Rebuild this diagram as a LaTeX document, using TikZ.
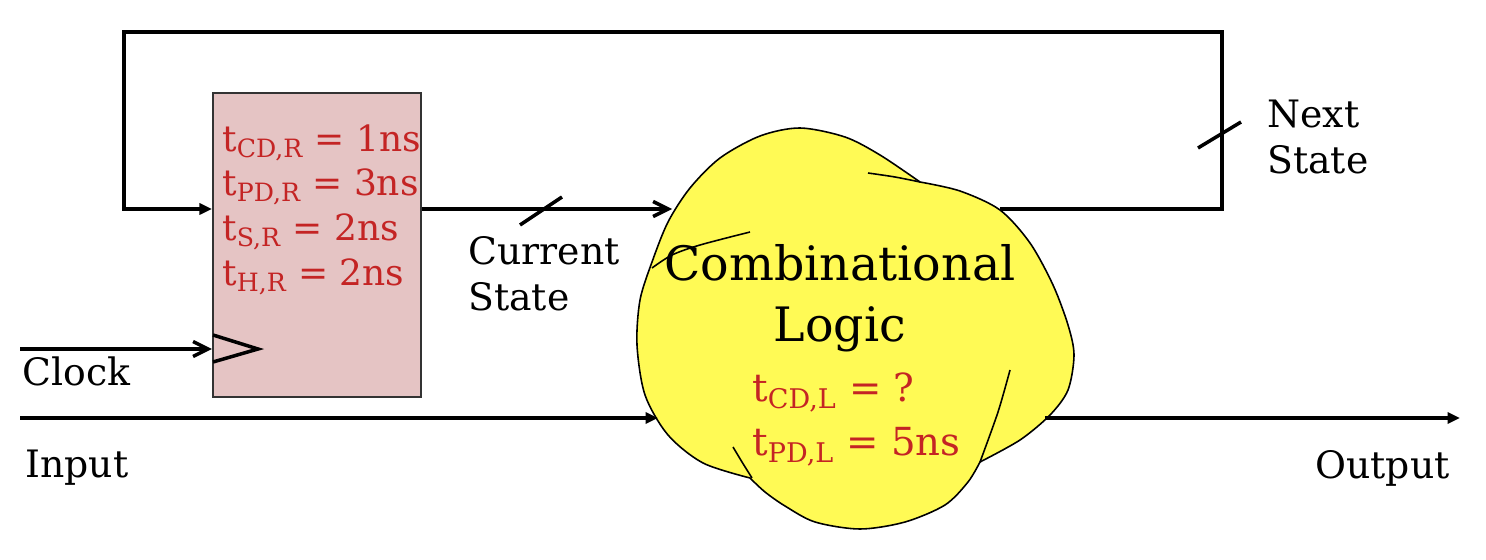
\documentclass[tikz,border=0pt]{standalone}
\usepackage{fontspec}
\setmainfont{DejaVu Serif}
\usepackage{tikz}
\usetikzlibrary{arrows.meta,positioning,calc}
\definecolor{regpink}{RGB}{229,196,196}
\definecolor{blobyel}{RGB}{255,250,85}
\definecolor{tred}{RGB}{196,36,36}

\begin{document}
\begin{tikzpicture}[x=0.02cm,y=-0.02cm,
  wire/.style={line width=2pt},
  barb/.style={wire,-{Straight Barb[length=3mm,width=3mm]}},
  tri/.style={wire,-{Triangle[length=2.5mm,width=2.2mm]}},
  lbl/.style={font=\fontsize{21.5}{26}\selectfont,inner sep=0pt,align=left},
  tim/.style={font=\fontsize{20.5}{25.5}\selectfont,text=tred,inner sep=0pt,align=left},
  regbox/.style={draw=black!80,line width=1.2pt,fill=regpink,minimum width=4.16cm,
                 minimum height=6.08cm,inner sep=0pt}]
\useasboundingbox (0,0) rectangle (1486,560);
% register
\node[regbox] (reg) at (317,245) {};
\node[tim,anchor=north west] (regt) at (222,124)
  {t\textsubscript{CD,R} = 1ns\\t\textsubscript{PD,R} = 3ns\\t\textsubscript{S,R} = 2ns\\t\textsubscript{H,R} = 2ns};
\draw[wire] (213,335) -- (258,349) -- (213,362);
% combinational logic blob
\draw[fill=blobyel,line width=0.9pt]
  plot[smooth] coordinates {(750,478) (703,463) (668,435) (645,395) (637,345) (640,300) (652,262)
    (668,222) (690,188) (720,158) (760,136) (800,128) (845,137) (880,155) (920,182)}
  -- plot[smooth] coordinates {(920,182) (960,191) (1000,210) (1030,243) (1053,285) (1068,325)
    (1074,355) (1068,390) (1050,415) (1020,440) (980,462)}
  -- plot[smooth] coordinates {(980,462) (968,482) (945,505) (905,522) (860,529) (815,522)
    (785,506) (765,492) (750,478)} -- cycle;
\draw[line width=0.9pt] plot[smooth] coordinates {(868,173) (895,177) (920,182)};
\draw[line width=0.9pt] plot[smooth] coordinates {(750,232) (700,245) (672,255) (652,268)};
\draw[line width=0.9pt] plot[smooth] coordinates {(1010,370) (998,412) (980,462)};
\draw[line width=0.9pt] plot[smooth] coordinates {(733,447) (742,462) (752,478)};
\node[font=\fontsize{27}{35}\selectfont,align=center,inner sep=0pt] (logic) at (840,298)
  {Combinational\\Logic};
\node[tim,font=\fontsize{22}{31}\selectfont,anchor=north west] (logt) at (752,372)
  {t\textsubscript{CD,L} = ?\\t\textsubscript{PD,L} = 5ns};
% connection points
\coordinate (clkin) at (20,349);
\coordinate (inp) at (20,418);
\coordinate (lgin) at (658,418);
\coordinate (csin) at (672,209);
\coordinate (nsout) at (1000,209);
\coordinate (lgout) at (1045,418);
\coordinate (outp) at (1460,418);
% wires
\draw[barb] (clkin) -- (reg.west |- clkin);
\draw[tri] (inp) -- (lgin);
\draw[tri] (lgout) -- (outp);
\draw[barb] (reg.east |- csin) -- (csin);
\draw[tri] (nsout) -- (1222,209) -- (1222,32) -- (124,32) -- (124,209) -- (reg.west |- 0,209);
\draw[wire] (520,225) -- (562,197);
\draw[wire] (1198,148) -- (1241,122);
% labels
\node[lbl,anchor=west] (clk) at (22,371) {Clock};
\node[lbl,anchor=west] (inl) at (25,468) {Input};
\node[lbl,anchor=east] (outl) at (1450,468) {Output};
\node[lbl,anchor=west] (cs) at (468,274) {Current\\State};
\node[lbl,anchor=west] (ns) at (1267,137) {Next\\State};
\end{tikzpicture}
\end{document}
